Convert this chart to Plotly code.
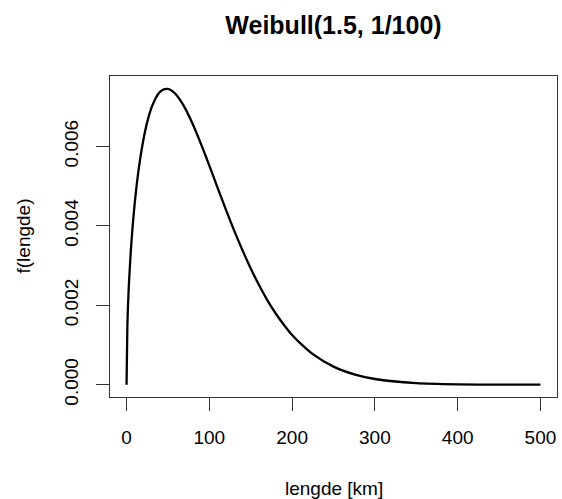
import plotly.graph_objects as go

# Values (lengde in km, density f(lengde))
lengde = [0, 1, 2, 3, 5, 7, 10, 15, 20, 25, 30, 35, 40, 45, 50, 55, 60, 70, 80, 90,
          100, 110, 120, 130, 140, 150, 160, 170, 180, 190, 200, 210, 225, 250, 275,
          300, 350, 400, 450, 500]
f_lengde = [0.0, 0.00150, 0.00212, 0.00259, 0.00332, 0.00390, 0.00460, 0.00548,
            0.00613, 0.00662, 0.00697, 0.00721, 0.00737, 0.00744, 0.00745, 0.00740,
            0.00730, 0.00699, 0.00656, 0.00606, 0.00552, 0.00496, 0.00441, 0.00388,
            0.00339, 0.00293, 0.00251, 0.00213, 0.00180, 0.00151, 0.00125, 0.00104,
            0.00077, 0.000455, 0.00026, 0.000144, 0.00004, 0.00001, 0.0000023, 0.0000005]

x_ticks = [0, 100, 200, 300, 400, 500]
y_ticks = [0.000, 0.002, 0.004, 0.006]
y_ticklabels = ["0.000", "0.002", "0.004", "0.006"]

FONT = "Liberation Sans, Arial, Helvetica, sans-serif"

fig = go.Figure()
fig.add_trace(go.Scatter(x=lengde, y=f_lengde, mode="lines",
                         line=dict(color="black", width=2.3, shape="spline", smoothing=0.6),
                         hoverinfo="skip", showlegend=False))

fig.update_layout(
    width=562, height=499,
    margin=dict(l=110, r=5, t=76, b=102),
    paper_bgcolor="white", plot_bgcolor="white",
    font=dict(family=FONT, color="black", size=19),
    title=dict(text="<b>Weibull(1.5, 1/100)</b>", x=0.5, xref="paper", xanchor="center",
               y=1 - 25 / 499, yref="container", yanchor="middle",
               font=dict(family=FONT, size=25, color="black")),
    xaxis=dict(range=[-20, 520], tickvals=x_ticks, ticks="outside", ticklen=13,
               tickcolor="#333", showline=True, mirror=True, linecolor="#333",
               linewidth=1, showgrid=False, zeroline=False, ticklabelstandoff=10,
               tickfont=dict(size=19)),
    yaxis=dict(range=[-0.000309, 0.007775], tickvals=y_ticks, ticktext=y_ticklabels,
               ticks="outside", ticklen=13, tickcolor="#333", showline=True, mirror=True,
               linecolor="#333", linewidth=1, showgrid=False, zeroline=False,
               tickangle=-90, ticklabelstandoff=10, tickfont=dict(size=19)),
    annotations=[
        dict(text="lengde [km]", xref="paper", yref="paper", x=0.5, y=(397 - 488) / 321,
             xanchor="center", yanchor="middle", showarrow=False, font=dict(size=19)),
        dict(text="f(lengde)", xref="paper", yref="paper", x=(23 - 110) / 447, y=0.5,
             xanchor="center", yanchor="middle", textangle=-90, showarrow=False,
             font=dict(size=19)),
    ],
)

fig.write_html("out.html", config={"displayModeBar": False},
               post_script="document.body.style.margin='0';document.body.style.padding='0';")
